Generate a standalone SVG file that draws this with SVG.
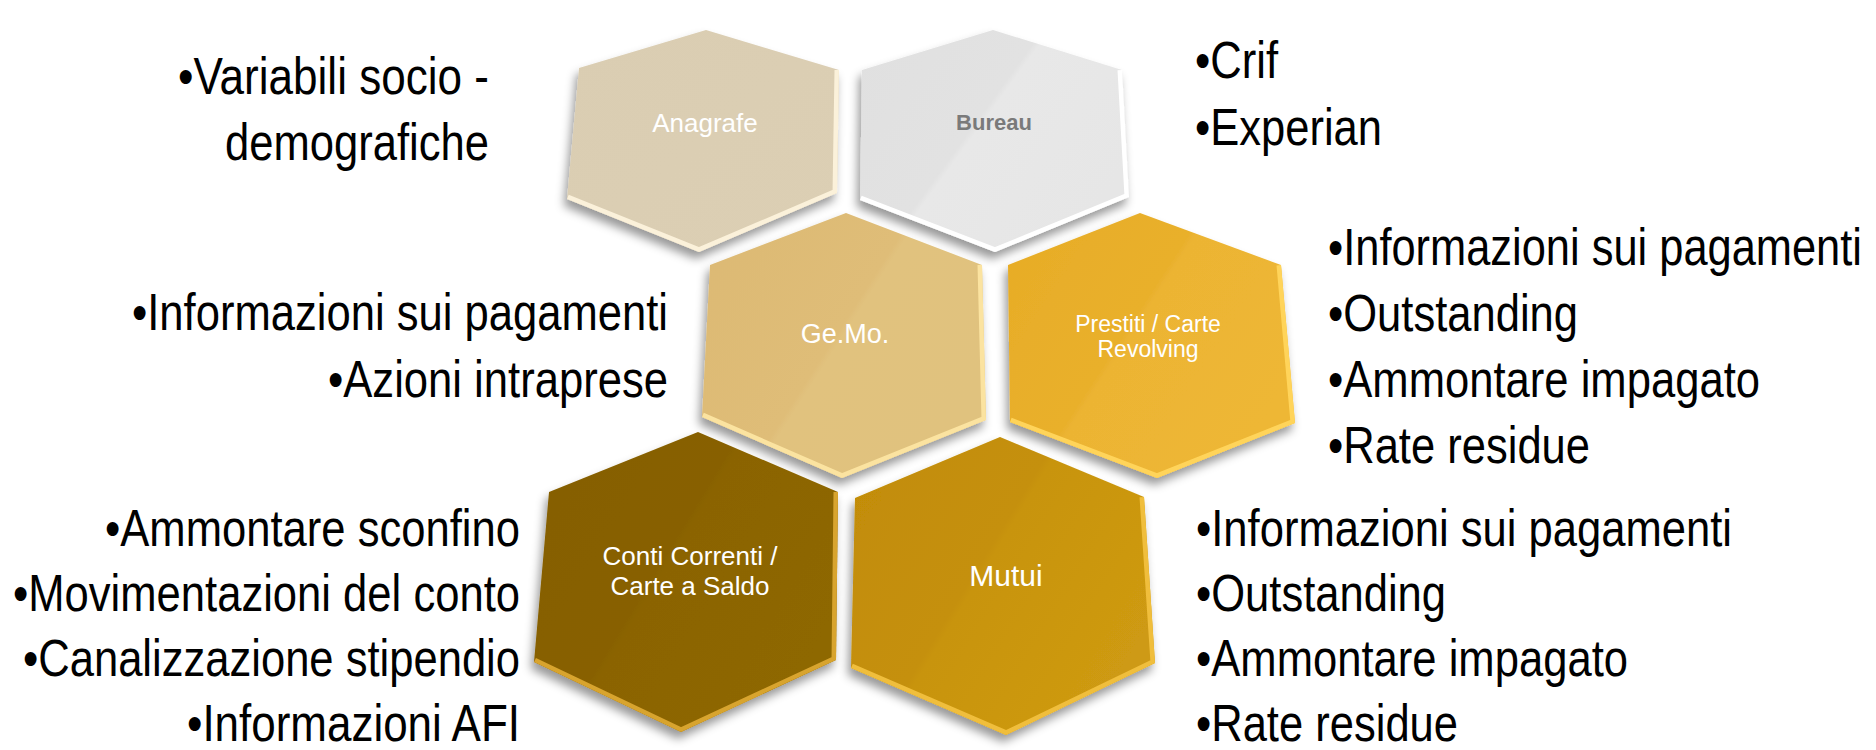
<svg xmlns="http://www.w3.org/2000/svg" xmlns:xlink="http://www.w3.org/1999/xlink" width="1876" height="750" viewBox="0 0 1876 750">
<style>
.lst{font-family:"Liberation Sans Narrow","Liberation Sans",Arial,sans-serif;font-size:52px;fill:#000}
.lbl{font-family:"Liberation Sans",Arial,sans-serif;fill:#fff;text-anchor:middle}
.bev{fill:none;stroke-width:9;stroke-linejoin:round}
</style>
<defs>
<filter id="sh" x="-20%" y="-20%" width="140%" height="150%">
<feDropShadow dx="-3" dy="7" stdDeviation="5" flood-color="#000" flood-opacity="0.4"/>
</filter>
<polygon id="pA" points="706,30 839,70 837,193 699,252 567,199 579,68"/>
<polygon id="pB" points="993,30 1122,70 1129,197 995,252 860,200 862,70"/>
<polygon id="pG" points="846,213 982,265 986,420 842,478 702,417 710,265"/>
<polygon id="pP" points="1140,213 1281,265 1295,423 1157,478 1010,422 1008,265"/>
<polygon id="pC" points="698,432 838,492 836,660 681,732 534,662 549,492"/>
<polygon id="pM" points="1000,437 1144,497 1155,663 1006,735 851,668 855,498"/>
<clipPath id="cA"><use xlink:href="#pA"/></clipPath>
<clipPath id="cB"><use xlink:href="#pB"/></clipPath>
<clipPath id="cG"><use xlink:href="#pG"/></clipPath>
<clipPath id="cP"><use xlink:href="#pP"/></clipPath>
<clipPath id="cC"><use xlink:href="#pC"/></clipPath>
<clipPath id="cM"><use xlink:href="#pM"/></clipPath>
<linearGradient id="gA" x1="0" y1="0" x2="1" y2="1"><stop offset="0" stop-color="#DACDB2"/><stop offset="1" stop-color="#DCCFB4"/></linearGradient>
<linearGradient id="gB" x1="0" y1="0" x2="1" y2="0.6"><stop offset="0" stop-color="#E0E0E0"/><stop offset="0.5" stop-color="#E2E2E2"/><stop offset="0.52" stop-color="#E8E8E8"/><stop offset="1" stop-color="#E6E6E6"/></linearGradient>
<linearGradient id="gG" x1="0" y1="0" x2="1" y2="0.6"><stop offset="0" stop-color="#DCB973"/><stop offset="0.55" stop-color="#DFBD78"/><stop offset="0.57" stop-color="#E1C27E"/><stop offset="1" stop-color="#E0C27E"/></linearGradient>
<linearGradient id="gP" x1="0" y1="0" x2="1" y2="0.6"><stop offset="0" stop-color="#E7AC26"/><stop offset="0.5" stop-color="#E9B02C"/><stop offset="0.52" stop-color="#ECB433"/><stop offset="1" stop-color="#EEB735"/></linearGradient>
<linearGradient id="gC" x1="0" y1="0" x2="1" y2="0.6"><stop offset="0" stop-color="#855E00"/><stop offset="0.5" stop-color="#886100"/><stop offset="0.52" stop-color="#8B6402"/><stop offset="1" stop-color="#8E6704"/></linearGradient>
<linearGradient id="gM" x1="0" y1="0" x2="1" y2="0.6"><stop offset="0" stop-color="#C28C06"/><stop offset="0.5" stop-color="#C59009"/><stop offset="0.52" stop-color="#C8940D"/><stop offset="1" stop-color="#CE9A12"/></linearGradient>
</defs>
<rect width="1876" height="750" fill="#fff"/>

<g id="anagrafe">
<use xlink:href="#pA" fill="url(#gA)" filter="url(#sh)"/>
<polyline class="bev" clip-path="url(#cA)" stroke="#FBF1DA" points="839,70 837,193 699,252 567,199"/>
<text class="lbl" x="705" y="132" font-size="26" fill="#F7F3EA">Anagrafe</text>
</g>
<g id="bureau">
<use xlink:href="#pB" fill="url(#gB)" filter="url(#sh)"/>
<polyline class="bev" clip-path="url(#cB)" stroke="#FFFFFF" points="1122,70 1129,197 995,252 860,200"/>
<text class="lbl" x="994" y="130" font-size="22" font-weight="bold" style="fill:#7A7A7A">Bureau</text>
</g>
<g id="gemo">
<use xlink:href="#pG" fill="url(#gG)" filter="url(#sh)"/>
<polyline class="bev" clip-path="url(#cG)" stroke="#FBE3A0" points="982,265 986,420 842,478 702,417"/>
<text class="lbl" x="845" y="343" font-size="27">Ge.Mo.</text>
</g>
<g id="prestiti">
<use xlink:href="#pP" fill="url(#gP)" filter="url(#sh)"/>
<polyline class="bev" clip-path="url(#cP)" stroke="#FFD45A" points="1281,265 1295,423 1157,478 1010,422"/>
<text class="lbl" x="1148" y="332" font-size="23">Prestiti / Carte</text>
<text class="lbl" x="1148" y="357" font-size="23">Revolving</text>
</g>
<g id="conti">
<use xlink:href="#pC" fill="url(#gC)" filter="url(#sh)"/>
<polyline class="bev" clip-path="url(#cC)" stroke="#D8A42E" points="838,492 836,660 681,732 534,662"/>
<text class="lbl" x="690" y="565" font-size="26">Conti Correnti /</text>
<text class="lbl" x="690" y="595" font-size="26">Carte a Saldo</text>
</g>
<g id="mutui">
<use xlink:href="#pM" fill="url(#gM)" filter="url(#sh)"/>
<polyline class="bev" clip-path="url(#cM)" stroke="#F0BE3C" points="1144,497 1155,663 1006,735 851,668"/>
<text class="lbl" x="1006" y="586" font-size="30">Mutui</text>
</g>

<g id="connectors"></g>

<g id="list-anagrafe">
<text class="lst" x="178" y="94" textLength="311" lengthAdjust="spacingAndGlyphs">•Variabili socio -</text>
<text class="lst" x="225" y="160" textLength="264" lengthAdjust="spacingAndGlyphs">demografiche</text>
</g>
<g id="list-bureau">
<text class="lst" x="1195" y="78" textLength="83" lengthAdjust="spacingAndGlyphs">•Crif</text>
<text class="lst" x="1195" y="145" textLength="187" lengthAdjust="spacingAndGlyphs">•Experian</text>
</g>
<g id="list-gemo">
<text class="lst" x="132" y="330" textLength="536" lengthAdjust="spacingAndGlyphs">•Informazioni sui pagamenti</text>
<text class="lst" x="328" y="397" textLength="340" lengthAdjust="spacingAndGlyphs">•Azioni intraprese</text>
</g>
<g id="list-prestiti">
<text class="lst" transform="translate(1328,265) scale(0.835,1)" x="0" y="0">•Informazioni sui pagamenti</text>
<text class="lst" x="1328" y="331" textLength="250" lengthAdjust="spacingAndGlyphs">•Outstanding</text>
<text class="lst" x="1328" y="397" textLength="432" lengthAdjust="spacingAndGlyphs">•Ammontare impagato</text>
<text class="lst" x="1328" y="463" textLength="262" lengthAdjust="spacingAndGlyphs">•Rate residue</text>
</g>
<g id="list-conti">
<text class="lst" x="105" y="546" textLength="415" lengthAdjust="spacingAndGlyphs">•Ammontare sconfino</text>
<text class="lst" x="13" y="611" textLength="507" lengthAdjust="spacingAndGlyphs">•Movimentazioni del conto</text>
<text class="lst" x="23" y="676" textLength="497" lengthAdjust="spacingAndGlyphs">•Canalizzazione stipendio</text>
<text class="lst" x="187" y="741" textLength="333" lengthAdjust="spacingAndGlyphs">•Informazioni AFI</text>
</g>
<g id="list-mutui">
<text class="lst" x="1196" y="546" textLength="536" lengthAdjust="spacingAndGlyphs">•Informazioni sui pagamenti</text>
<text class="lst" x="1196" y="611" textLength="250" lengthAdjust="spacingAndGlyphs">•Outstanding</text>
<text class="lst" x="1196" y="676" textLength="432" lengthAdjust="spacingAndGlyphs">•Ammontare impagato</text>
<text class="lst" x="1196" y="741" textLength="262" lengthAdjust="spacingAndGlyphs">•Rate residue</text>
</g>
</svg>
